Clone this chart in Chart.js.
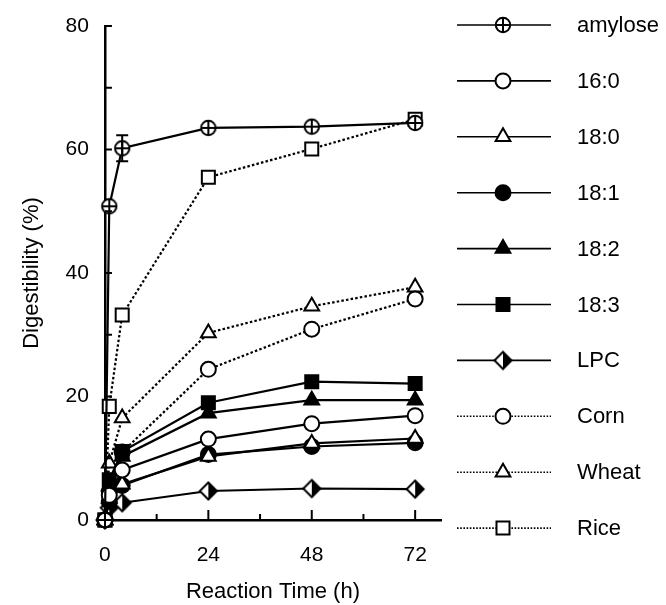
<!DOCTYPE html>
<html><head><meta charset="utf-8">
<script src="https://cdn.jsdelivr.net/npm/chart.js@4.4.1/dist/chart.umd.min.js"></script>
<style>html,body{margin:0;padding:0;background:#fff}canvas{display:block}</style>
</head><body>
<canvas id="c" width="666" height="605"></canvas>
<script>
// ---------- data ----------
const timesH = [0, 1, 4, 24, 48, 72];
const seriesNames = ['amylose', '16:0', '18:0', '18:1', '18:2', '18:3', 'LPC', 'Corn', 'Wheat', 'Rice'];
const amylose = [0, 50.8, 60.2, 63.5, 63.7, 64.3];
const amyloseErr = [0, 0, 2.1, 0, 0, 0];
const c16_0 = [0, 4.0, 8.1, 13.1, 15.6, 16.9];
const c18_0 = [0, 3.5, 5.8, 10.3, 12.4, 13.2];
const c18_1 = [0, 3.0, 5.6, 10.6, 11.9, 12.5];
const c18_2 = [0, 5.5, 10.3, 17.3, 19.4, 19.4];
const c18_3 = [0, 6.5, 11.1, 19.0, 22.4, 22.1];
const lpc = [0, 2.0, 2.8, 4.7, 5.1, 5.0];
const corn = [0, 4.6, 11.0, 24.4, 30.9, 35.8];
const wheat = [0, 9.2, 16.5, 30.3, 34.6, 37.7];
const rice = [0, 18.4, 33.2, 55.5, 60.1, 64.9];
const seriesValues = [amylose, c16_0, c18_0, c18_1, c18_2, c18_3, lpc, corn, wheat, rice];
const xTickLabels = [0, 24, 48, 72];
const yTickLabels = [0, 20, 40, 60, 80];

// ---------- marker images ----------
function mk(size, fn) {
  const c = document.createElement('canvas');
  c.width = size; c.height = size;
  const g = c.getContext('2d');
  fn(g, size / 2);
  return c;
}
const circlePlus = mk(20, (g, m) => {
  g.lineWidth = 2; g.strokeStyle = '#000'; g.fillStyle = '#fff';
  g.beginPath(); g.arc(m, m, 7.2, 0, Math.PI * 2); g.fill(); g.stroke();
  g.beginPath(); g.moveTo(m, m - 7.2); g.lineTo(m, m + 7.2);
  g.moveTo(m - 7.2, m); g.lineTo(m + 7.2, m); g.stroke();
});
const halfDiamond = mk(22, (g, m) => {
  const r = 8.5;
  g.lineWidth = 2; g.strokeStyle = '#000';
  g.beginPath(); g.moveTo(m, m - r); g.lineTo(m + r, m); g.lineTo(m, m + r); g.lineTo(m - r, m); g.closePath();
  g.fillStyle = '#fff'; g.fill();
  g.beginPath(); g.moveTo(m, m - r); g.lineTo(m + r, m); g.lineTo(m, m + r); g.closePath();
  g.fillStyle = '#000'; g.fill();
  g.beginPath(); g.moveTo(m, m - r); g.lineTo(m + r, m); g.lineTo(m, m + r); g.lineTo(m - r, m); g.closePath();
  g.stroke();
});

// ---------- styles ----------
const styles = [
  {pt: circlePlus, r: 8, fill: '#fff', dash: false},
  {pt: 'circle', r: 7.5, fill: '#fff', dash: false},
  {pt: 'triangle', r: 8.5, fill: '#fff', dash: false},
  {pt: 'circle', r: 7.5, fill: '#000', dash: false},
  {pt: 'triangle', r: 8.5, fill: '#000', dash: false},
  {pt: 'rect', r: 9.2, fill: '#000', dash: false},
  {pt: halfDiamond, r: 9, fill: '#fff', dash: false},
  {pt: 'circle', r: 7.5, fill: '#fff', dash: true},
  {pt: 'triangle', r: 8.5, fill: '#fff', dash: true},
  {pt: 'rect', r: 9.2, fill: '#fff', dash: true}
];

const FONT = '"Liberation Sans", Arial, Helvetica, sans-serif';
Chart.defaults.color = '#000';
Chart.defaults.font.family = FONT;

const datasets = seriesNames.map((name, k) => ({
  label: name,
  data: timesH.map((t, i) => ({x: t, y: seriesValues[k][i]})),
  borderColor: '#000',
  borderWidth: 2.2,
  borderDash: styles[k].dash ? [2.5, 2.2] : [],
  pointStyle: styles[k].pt,
  pointRadius: styles[k].r,
  pointHoverRadius: styles[k].r,
  pointBackgroundColor: styles[k].fill,
  pointBorderColor: '#000',
  pointBorderWidth: 2,
  fill: false,
  tension: 0,
  clip: false
}));

// ---------- plugins ----------
const ticksPlugin = {
  id: 'inwardTicks',
  afterDraw(chart) {
    const {ctx, scales: {x, y}} = chart;
    ctx.save();
    ctx.strokeStyle = '#000'; ctx.lineWidth = 2;
    for (let t = 0; t <= 72; t += 12) {
      const px = x.getPixelForValue(t);
      const len = (t % 24 === 0) ? 10 : 6;
      ctx.beginPath(); ctx.moveTo(px, y.bottom); ctx.lineTo(px, y.bottom - len); ctx.stroke();
    }
    for (let v = 0; v <= 80; v += 10) {
      const py = y.getPixelForValue(v);
      ctx.beginPath(); ctx.moveTo(x.left, py); ctx.lineTo(x.left + 7, py); ctx.stroke();
    }
    ctx.restore();
  }
};

const errPlugin = {
  id: 'errBars',
  afterDatasetsDraw(chart) {
    const {ctx, scales: {x, y}} = chart;
    ctx.save();
    ctx.strokeStyle = '#000'; ctx.lineWidth = 2;
    amyloseErr.forEach((e, i) => {
      if (!e) return;
      const px = x.getPixelForValue(timesH[i]);
      const hi = y.getPixelForValue(amylose[i] + e);
      const lo = y.getPixelForValue(amylose[i] - e);
      ctx.beginPath();
      ctx.moveTo(px, hi); ctx.lineTo(px, lo);
      ctx.moveTo(px - 6, hi); ctx.lineTo(px + 6, hi);
      ctx.moveTo(px - 6, lo); ctx.lineTo(px + 6, lo);
      ctx.stroke();
    });
    ctx.restore();
  }
};

const legendPlugin = {
  id: 'sideLegend',
  afterDraw(chart) {
    const ctx = chart.ctx;
    ctx.save();
    chart.data.datasets.forEach((ds, i) => {
      const yy = 25 + i * 55.9;
      ctx.strokeStyle = '#000';
      ctx.lineWidth = 1.6;
      ctx.setLineDash(ds.borderDash.length ? [1.6, 1.6] : []);
      ctx.beginPath(); ctx.moveTo(457, yy); ctx.lineTo(551, yy); ctx.stroke();
      ctx.setLineDash([]);
      ctx.fillStyle = ds.pointBackgroundColor;
      ctx.strokeStyle = '#000';
      ctx.lineWidth = 2;
      Chart.helpers.drawPoint(ctx, {pointStyle: ds.pointStyle, radius: ds.pointRadius, rotation: 0, borderWidth: 2}, 503, yy);
      ctx.fillStyle = '#000';
      ctx.font = '22px ' + FONT;
      ctx.textBaseline = 'middle';
      ctx.textAlign = 'left';
      ctx.fillText(ds.label, 577, yy + 1);
    });
    ctx.restore();
  }
};

new Chart(document.getElementById('c'), {
  type: 'line',
  data: {datasets},
  options: {
    responsive: false,
    animation: false,
    devicePixelRatio: 1,
    layout: {padding: {left: 18.8, right: 225, top: 26, bottom: 0}},
    plugins: {legend: {display: false}, tooltip: {enabled: false}},
    scales: {
      x: {
        type: 'linear', min: 0, max: 78,
        afterBuildTicks: (s) => { s.ticks = xTickLabels.map(v => ({value: v})); },
        ticks: {font: {size: 21}, padding: 2, maxRotation: 0, autoSkip: false},
        grid: {display: false, drawTicks: true, tickLength: 21},
        border: {display: true, color: '#000', width: 2.5},
        title: {display: true, text: 'Reaction Time (h)', font: {size: 22}, padding: {top: 8.4, bottom: 0}}
      },
      y: {
        type: 'linear', min: 0, max: 80,
        afterBuildTicks: (s) => { s.ticks = yTickLabels.map(v => ({value: v})); },
        ticks: {font: {size: 21}, padding: 1, autoSkip: false},
        grid: {display: false, drawTicks: true, tickLength: 15},
        border: {display: true, color: '#000', width: 2.5},
        title: {display: true, text: 'Digestibility (%)', font: {size: 22}, padding: {top: 0, bottom: 19.4}}
      }
    }
  },
  plugins: [ticksPlugin, errPlugin, legendPlugin]
});
</script>
</body></html>
